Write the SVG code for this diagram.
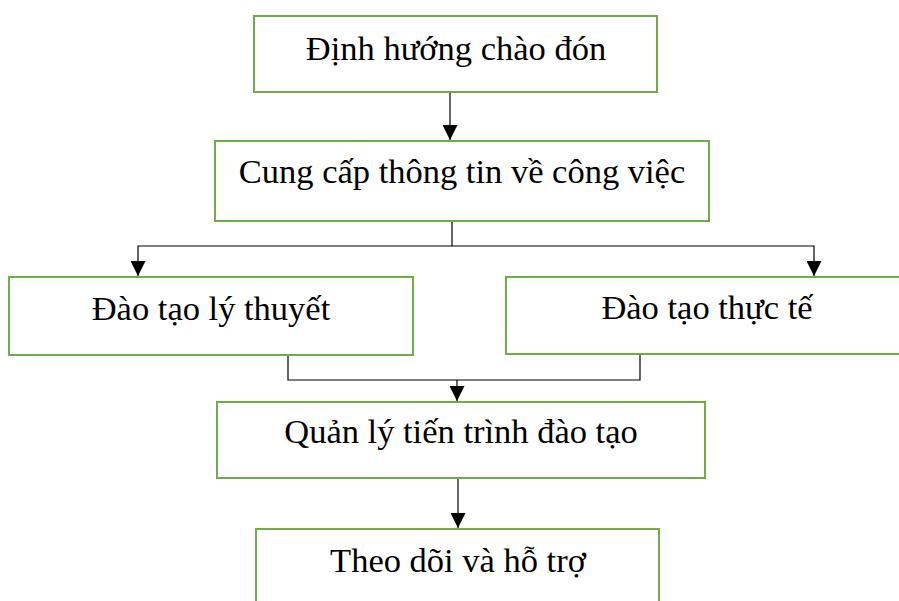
<svg xmlns="http://www.w3.org/2000/svg" width="899" height="601" viewBox="0 0 899 601">
<defs>
<style>
.box{fill:#fff;stroke:#70AD47;stroke-width:2}
.lbl{font-family:"Liberation Serif","Times New Roman",serif;font-size:34.5px;fill:#000;text-anchor:middle}
.con{fill:none;stroke:#000;stroke-width:1.2}
</style>
<marker id="arr" viewBox="0 0 10 10" refX="10" refY="5" markerWidth="15" markerHeight="15" markerUnits="userSpaceOnUse" orient="auto">
<path d="M0,0 L10,5 L0,10 z" fill="#000"/>
</marker>
</defs>
<rect width="899" height="601" fill="#fff"/>
<g id="connectors">
<path class="con" d="M450,92 V140" marker-end="url(#arr)"/>
<path class="con" d="M452,221 V246 H138 V276" marker-end="url(#arr)"/>
<path class="con" d="M452,246 H814 V276" marker-end="url(#arr)"/>
<path class="con" d="M288,355 V380 H640 V354"/>
<path class="con" d="M457,380 V401" marker-end="url(#arr)"/>
<path class="con" d="M458,478 V528" marker-end="url(#arr)"/>
</g>
<g id="n1"><rect class="box" x="254" y="16" width="403" height="76"/><text class="lbl" x="456" y="60">Định hướng chào đón</text></g>
<g id="n2"><rect class="box" x="215" y="141" width="494" height="80"/><text class="lbl" x="462" y="183">Cung cấp thông tin về công việc</text></g>
<g id="n3"><rect class="box" x="9" y="277" width="404" height="78"/><text class="lbl" x="211" y="320">Đào tạo lý thuyết</text></g>
<g id="n4"><rect class="box" x="506" y="277" width="402" height="77"/><text class="lbl" x="707" y="319">Đào tạo thực tế</text></g>
<g id="n5"><rect class="box" x="217" y="402" width="488" height="76"/><text class="lbl" x="461" y="443">Quản lý tiến trình đào tạo</text></g>
<g id="n6"><rect class="box" x="256" y="529" width="403" height="80"/><text class="lbl" x="458" y="572">Theo dõi và hỗ trợ</text></g>
</svg>
